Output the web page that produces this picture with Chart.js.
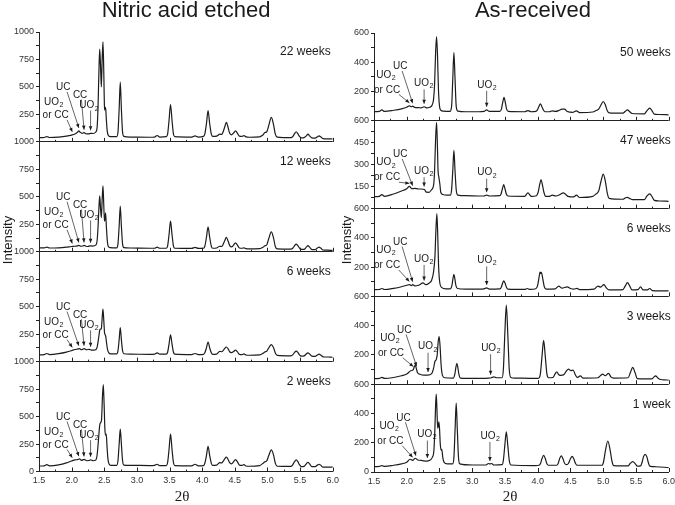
<!DOCTYPE html>
<html>
<head>
<meta charset="utf-8">
<script src="https://cdn.jsdelivr.net/npm/chart.js@4.4.1/dist/chart.umd.min.js"></script>
<style>
  html, body { margin: 0; padding: 0; background: #fff; }
  body { width: 675px; height: 505px; position: relative; overflow: hidden; }
  .col { position: absolute; top: 0; height: 505px; }
  #leftBox { left: 0; width: 343px; }
  #rightBox { left: 337px; width: 342px; }
</style>
</head>
<body>
<div class="col" id="leftBox"><canvas id="leftChart"></canvas></div>
<div class="col" id="rightBox"><canvas id="rightChart"></canvas></div>
<script>
// 2theta range shared by all panels
const xMin = 1.5, xMax = 6.0;

// Nitric acid etched, top to bottom
const leftNames = ['22 weeks', '12 weeks', '6 weeks', '2 weeks'];
const etched22 = [[1.50,38],[1.58,40],[1.62,48],[1.66,40],[1.80,44],[1.92,52],[2.00,62],[2.05,72],[2.09,88],[2.11,100],[2.13,88],[2.16,78],[2.19,84],[2.22,74],[2.26,72],[2.29,78],[2.33,76],[2.37,90],
  [2.39,130],[2.405,330],[2.418,640],[2.43,844],[2.442,700],[2.455,500],[2.468,760],[2.48,911],[2.492,650],[2.503,320],[2.51,290],[2.52,315],[2.532,200],[2.545,100],[2.56,60],[2.59,48],
  [2.69,48],[2.71,90],[2.728,300],[2.745,544],[2.762,300],[2.78,90],[2.80,50],[2.90,44],[3.20,42],[3.27,44],[3.31,58],[3.35,44],
  [3.45,48],[3.47,70],[3.492,195],[3.515,340],[3.538,195],[3.56,70],[3.58,48],[3.84,44],[3.89,54],[3.94,44],
  [4.02,50],[4.04,70],[4.065,165],[4.09,284],[4.115,165],[4.14,70],[4.16,50],
  [4.22,52],[4.27,70],[4.30,68],[4.32,90],[4.345,135],[4.37,177],[4.395,135],[4.42,80],[4.45,64],[4.48,80],[4.51,100],[4.54,78],[4.57,52],[4.61,50],[4.64,56],[4.67,46],[4.72,42],
  [4.88,46],[4.93,62],[4.96,85],[4.99,92],[5.02,150],[5.06,223],[5.095,150],[5.12,70],[5.15,44],
  [5.36,38],[5.39,50],[5.415,75],[5.44,92],[5.465,75],[5.49,50],[5.52,36],[5.56,38],[5.595,55],[5.62,70],[5.645,55],[5.68,36],
  [5.73,34],[5.765,46],[5.79,55],[5.815,46],[5.85,30],[5.92,28],[6.00,26]];
const etched12 = [[1.50,35],[1.58,36],[1.62,42],[1.66,34],[1.80,36],[1.92,42],[2.00,48],[2.05,50],[2.09,54],[2.11,58],[2.14,50],[2.17,52],[2.19,58],[2.22,50],[2.25,48],[2.28,54],[2.32,52],[2.37,60],
  [2.39,100],[2.405,230],[2.418,400],[2.43,508],[2.442,400],[2.455,310],[2.468,480],[2.48,600],[2.492,430],[2.503,278],[2.512,300],[2.52,355],[2.532,230],[2.545,110],[2.56,50],[2.59,38],
  [2.69,36],[2.71,72],[2.728,235],[2.745,416],[2.762,235],[2.78,72],[2.80,38],[2.90,34],[3.20,32],[3.27,32],[3.31,42],[3.35,32],
  [3.45,32],[3.47,52],[3.492,155],[3.515,278],[3.538,155],[3.56,52],[3.58,32],[3.84,30],[3.89,40],[3.94,30],
  [4.02,32],[4.04,50],[4.065,130],[4.09,226],[4.115,130],[4.14,50],[4.16,32],
  [4.22,34],[4.27,50],[4.30,48],[4.32,66],[4.345,100],[4.37,131],[4.395,100],[4.42,58],[4.45,44],[4.48,60],[4.51,80],[4.54,60],[4.57,34],[4.61,32],[4.64,36],[4.67,28],[4.72,26],
  [4.88,28],[4.93,40],[4.96,54],[4.99,64],[5.02,120],[5.06,180],[5.095,120],[5.12,48],[5.15,26],
  [5.36,24],[5.39,34],[5.415,55],[5.44,70],[5.465,55],[5.49,34],[5.52,22],[5.56,22],[5.595,42],[5.62,55],[5.645,42],[5.68,20],
  [5.73,20],[5.765,34],[5.79,43],[5.815,34],[5.85,16],[5.92,14],[6.00,12]];
const etched6 = [[1.50,62],[1.58,64],[1.62,74],[1.66,64],[1.80,72],[1.92,86],[2.00,100],[2.05,110],[2.09,114],[2.12,118],[2.15,108],[2.19,118],[2.23,108],[2.27,112],[2.31,104],[2.36,106],
  [2.39,130],[2.41,200],[2.43,285],[2.44,296],[2.455,300],[2.468,400],[2.48,479],[2.492,380],[2.505,260],[2.52,237],[2.535,170],[2.55,110],[2.57,80],[2.60,70],
  [2.69,70],[2.71,100],[2.728,200],[2.745,310],[2.762,200],[2.78,100],[2.80,72],[2.90,68],[3.20,66],[3.27,68],[3.31,80],[3.35,68],
  [3.45,68],[3.47,85],[3.492,160],[3.515,243],[3.538,160],[3.56,85],[3.58,68],[3.84,64],[3.89,74],[3.94,64],
  [4.02,66],[4.04,80],[4.065,125],[4.09,178],[4.115,125],[4.14,80],[4.16,66],
  [4.22,68],[4.27,94],[4.30,90],[4.32,100],[4.345,120],[4.37,133],[4.395,118],[4.42,90],[4.45,82],[4.48,92],[4.51,104],[4.54,88],[4.57,66],[4.61,64],[4.64,70],[4.67,60],[4.72,58],
  [4.88,62],[4.93,75],[4.96,88],[4.99,96],[5.02,125],[5.06,154],[5.095,125],[5.12,78],[5.15,56],
  [5.36,52],[5.39,64],[5.415,84],[5.44,95],[5.465,84],[5.49,62],[5.52,50],[5.56,52],[5.595,70],[5.62,80],[5.645,70],[5.68,50],
  [5.73,48],[5.765,60],[5.79,68],[5.815,60],[5.85,44],[5.92,42],[6.00,40]];
const etched2 = [[1.50,50],[1.58,52],[1.62,62],[1.66,52],[1.80,60],[1.92,78],[2.00,96],[2.05,106],[2.09,108],[2.12,114],[2.15,102],[2.19,110],[2.23,98],[2.26,100],[2.29,106],[2.33,98],[2.37,104],
  [2.39,150],[2.41,280],[2.43,420],[2.445,446],[2.458,470],[2.472,680],[2.485,792],[2.497,620],[2.51,380],[2.52,330],[2.53,340],[2.542,230],[2.555,120],[2.575,66],[2.60,56],
  [2.69,56],[2.71,100],[2.728,250],[2.745,385],[2.762,250],[2.78,100],[2.80,58],[2.90,56],[3.20,54],[3.27,56],[3.31,66],[3.35,54],
  [3.45,54],[3.47,80],[3.492,200],[3.515,340],[3.538,200],[3.56,80],[3.58,54],[3.84,52],[3.89,66],[3.94,52],
  [4.02,54],[4.04,74],[4.065,145],[4.09,229],[4.115,145],[4.14,74],[4.16,56],
  [4.22,58],[4.27,80],[4.30,78],[4.32,92],[4.345,115],[4.37,130],[4.395,112],[4.42,80],[4.45,70],[4.48,88],[4.51,108],[4.54,88],[4.57,58],[4.61,56],[4.64,62],[4.67,50],[4.72,48],
  [4.88,54],[4.93,74],[4.96,88],[4.99,98],[5.02,145],[5.06,196],[5.095,145],[5.12,76],[5.15,48],
  [5.36,46],[5.39,64],[5.415,90],[5.44,105],[5.465,90],[5.49,62],[5.52,44],[5.56,46],[5.595,70],[5.62,84],[5.645,70],[5.68,44],
  [5.73,44],[5.765,58],[5.79,66],[5.815,58],[5.85,40],[5.92,40],[6.00,40]];
const leftMax = [1000, 1000, 1000, 1000];
const leftMinor = [125, 125, 125, 125];
const leftMajor = [250, 250, 250, 250];

// As-received, top to bottom
const rightNames = ['50 weeks', '47 weeks', '6 weeks', '3 weeks', '1 week'];
const asrec50 = [[1.50,62],[1.58,64],[1.62,74],[1.66,64],[1.80,72],[1.92,82],[2.00,93],[2.04,102],[2.07,96],[2.09,100],[2.12,92],[2.18,90],[2.22,88],[2.265,96],[2.30,88],[2.35,92],[2.39,110],
  [2.41,150],[2.425,250],[2.44,460],[2.455,575],[2.47,440],[2.485,200],[2.50,100],[2.52,72],[2.56,66],
  [2.66,64],[2.685,100],[2.703,290],[2.72,466],[2.737,290],[2.755,100],[2.78,66],[2.90,62],[3.10,62],[3.18,64],[3.22,75],[3.26,64],
  [3.42,64],[3.445,80],[3.465,125],[3.485,161],[3.505,125],[3.525,80],[3.55,64],[3.80,62],[3.85,70],[3.90,62],
  [3.97,64],[3.995,75],[4.02,100],[4.04,116],[4.06,100],[4.085,75],[4.11,62],
  [4.18,62],[4.22,68],[4.27,64],[4.33,72],[4.37,80],[4.41,80],[4.45,64],[4.54,58],[4.59,68],[4.64,56],
  [4.84,60],[4.89,70],[4.93,80],[4.965,108],[5.00,132],[5.035,105],[5.06,70],[5.09,54],
  [5.30,52],[5.34,66],[5.37,75],[5.40,64],[5.44,50],[5.63,48],[5.665,68],[5.71,86],[5.745,68],[5.78,46],[5.85,43],[6.00,41]];
const asrec47 = [[1.50,82],[1.58,84],[1.62,95],[1.66,84],[1.80,100],[1.92,120],[2.00,136],[2.04,152],[2.08,136],[2.12,138],[2.18,134],[2.22,134],[2.27,130],[2.30,112],[2.34,111],[2.38,130],[2.41,160],
  [2.425,260],[2.44,470],[2.455,589],[2.468,430],[2.478,260],[2.49,215],[2.505,170],[2.52,110],[2.55,96],[2.62,92],
  [2.665,92],[2.685,130],[2.703,260],[2.72,398],[2.737,260],[2.755,130],[2.78,92],[2.90,88],[3.10,86],[3.18,86],[3.22,92],[3.26,86],
  [3.42,88],[3.44,100],[3.46,135],[3.48,164],[3.50,135],[3.52,100],[3.545,86],[3.80,84],[3.85,107],[3.90,84],
  [3.98,88],[4.005,110],[4.03,165],[4.05,198],[4.07,165],[4.095,110],[4.12,84],
  [4.18,84],[4.22,92],[4.28,86],[4.34,96],[4.39,107],[4.42,100],[4.46,84],[4.55,80],[4.59,92],[4.64,76],
  [4.84,84],[4.89,100],[4.93,120],[4.965,185],[5.00,236],[5.035,180],[5.06,110],[5.09,70],
  [5.30,64],[5.34,74],[5.37,77],[5.40,70],[5.44,62],[5.63,62],[5.665,85],[5.71,100],[5.745,82],[5.78,56],[5.85,52],[6.00,50]];
const asrec6 = [[1.50,46],[1.58,47],[1.62,54],[1.66,47],[1.80,55],[1.92,66],[2.00,76],[2.04,81],[2.07,74],[2.09,80],[2.12,72],[2.18,76],[2.25,92],[2.29,80],[2.34,90],[2.38,110],
  [2.41,170],[2.43,270],[2.445,450],[2.46,565],[2.473,420],[2.485,220],[2.50,110],[2.53,62],[2.60,52],
  [2.665,52],[2.69,75],[2.705,120],[2.72,150],[2.735,120],[2.75,75],[2.775,54],[2.90,50],[3.10,50],[3.18,52],[3.22,58],[3.26,50],
  [3.42,52],[3.445,65],[3.465,92],[3.48,106],[3.50,92],[3.52,65],[3.545,50],[3.80,48],[3.84,54],[3.88,48],
  [3.97,52],[3.995,70],[4.02,130],[4.035,166],[4.045,158],[4.055,165],[4.075,125],[4.10,66],[4.13,50],
  [4.27,52],[4.32,70],[4.37,56],[4.45,65],[4.50,54],[4.55,50],[4.60,55],[4.64,46],
  [4.86,50],[4.92,70],[4.96,64],[5.01,81],[5.05,56],[5.09,44],
  [5.30,46],[5.335,70],[5.37,94],[5.405,70],[5.44,44],[5.53,46],[5.57,65],[5.61,44],[5.67,44],[5.71,54],[5.75,40],[5.85,38],[6.00,38]];
const asrec3 = [[1.50,38],[1.58,40],[1.62,46],[1.66,40],[1.80,46],[1.92,58],[2.00,69],[2.06,92],[2.10,100],
  [2.115,120],[2.13,131],[2.145,110],[2.165,78],[2.20,68],[2.26,62],[2.32,62],[2.38,72],
  [2.41,110],[2.43,155],[2.45,168],[2.465,200],[2.48,290],[2.495,326],[2.51,250],[2.525,130],[2.545,60],[2.58,44],
  [2.71,42],[2.735,70],[2.75,115],[2.765,143],[2.78,115],[2.795,70],[2.82,42],[3.00,40],[3.25,42],[3.29,44],[3.33,50],[3.37,44],
  [3.455,44],[3.475,100],[3.497,340],[3.52,540],[3.543,340],[3.565,100],[3.59,46],[3.65,42],[4.00,40],
  [4.02,42],[4.04,70],[4.065,190],[4.09,299],[4.115,190],[4.14,70],[4.165,44],
  [4.23,46],[4.265,70],[4.29,85],[4.315,68],[4.34,60],[4.37,62],[4.40,66],[4.44,92],[4.47,103],[4.505,92],[4.54,97],[4.57,68],[4.60,46],[4.65,57],[4.69,42],
  [4.92,44],[4.96,60],[4.99,69],[5.03,58],[5.08,74],[5.12,48],[5.16,42],
  [5.38,44],[5.415,80],[5.45,115],[5.485,80],[5.52,38],[5.74,36],[5.775,50],[5.80,57],[5.83,44],[5.86,34],[5.92,30],[6.00,28]];
const asrec1 = [[1.50,36],[1.58,38],[1.62,44],[1.66,38],[1.80,46],[1.92,56],[2.00,66],[2.05,87],[2.09,80],[2.13,94],[2.17,82],[2.22,80],[2.26,76],[2.30,74],[2.35,80],[2.39,100],
  [2.415,150],[2.43,300],[2.44,450],[2.45,532],[2.46,440],[2.472,300],[2.48,310],[2.49,342],[2.50,300],[2.512,190],[2.525,150],[2.535,155],[2.55,100],[2.57,66],[2.62,56],
  [2.70,56],[2.72,100],[2.738,290],[2.755,470],[2.772,290],[2.79,100],[2.81,56],[3.00,48],[3.20,48],[3.22,50],[3.245,58],[3.27,55],[3.295,58],[3.33,48],
  [3.455,50],[3.475,80],[3.497,180],[3.52,274],[3.543,180],[3.565,80],[3.59,48],[3.95,44],
  [4.02,46],[4.045,62],[4.065,92],[4.09,114],[4.115,92],[4.135,62],[4.16,46],
  [4.29,46],[4.315,62],[4.335,92],[4.36,110],[4.385,90],[4.41,60],[4.44,50],[4.47,60],[4.50,92],[4.525,107],[4.55,90],[4.575,60],[4.60,46],
  [4.98,46],[5.005,70],[5.035,150],[5.07,212],[5.105,150],[5.135,70],[5.16,44],
  [5.38,42],[5.41,58],[5.45,71],[5.49,56],[5.52,40],[5.57,42],[5.595,70],[5.615,105],[5.64,121],[5.665,105],[5.685,70],[5.71,40],[5.80,36],[6.00,30]];
const rightMax = [600, 600, 600, 600, 600];
const rightMinor = [100, 75, 100, 100, 100];
const rightMajor = [200, 150, 200, 200, 200];

// phase labels: text centre (x, y) and arrow from (fx, fy) to the curve at ax
const annLeft = [
  { text: 'UO2', x: 1.72, y: 360 },
  { text: 'or CC', x: 1.755, y: 240, fx: 1.93, fy: 200, ax: 2.01 },
  { text: 'UC', x: 1.87, y: 495, fx: 1.93, fy: 455, ax: 2.11 },
  { text: 'CC', x: 2.13, y: 425, fx: 2.15, fy: 385, ax: 2.19 },
  { text: 'UO2', x: 2.26, y: 330, fx: 2.29, fy: 285, ax: 2.29 }
];
const annRight = [
  { text: 'UO2', x: 1.68, y: 314 },
  { text: 'or CC', x: 1.70, y: 211, fx: 1.88, fy: 180, ax: 2.04 },
  { text: 'UC', x: 1.90, y: 370, fx: 1.93, fy: 340, ax: 2.09 },
  { text: 'UO2', x: 2.255, y: 257, fx: 2.265, fy: 215, ax: 2.265 },
  { text: 'UO2', x: 3.22, y: 245, fx: 3.22, fy: 205, ax: 3.22 }
];
const leftShift = [0, 0, 0, 0];
const rightShift = [0, 0, 0, 0.06, 0.05];

const FONT = '"Liberation Sans", Arial, sans-serif';
Chart.defaults.font.family = FONT;

function curveAt(pts, x) {
  for (let i = 1; i < pts.length; i++) {
    if (pts[i][0] >= x) {
      const [x0, y0] = pts[i - 1], [x1, y1] = pts[i];
      return y0 + (y1 - y0) * (x - x0) / (x1 - x0);
    }
  }
  return pts[pts.length - 1][1];
}

function drawLabel(ctx, text, cx, cy) {
  if (text === 'UO2') {
    ctx.font = '10px ' + FONT;
    const w1 = ctx.measureText('UO').width;
    ctx.font = '7px ' + FONT;
    const w2 = ctx.measureText('2').width;
    const left = cx - (w1 + w2) / 2;
    ctx.textAlign = 'left';
    ctx.font = '10px ' + FONT;
    ctx.fillText('UO', left, cy);
    ctx.font = '7px ' + FONT;
    ctx.fillText('2', left + w1 + 0.5, cy + 3);
  } else {
    ctx.font = '10px ' + FONT;
    ctx.textAlign = 'center';
    ctx.fillText(text, cx, cy);
  }
}

function drawArrow(ctx, x0, y0, x1, y1) {
  ctx.beginPath();
  ctx.moveTo(x0, y0);
  ctx.lineTo(x1, y1);
  ctx.stroke();
  const ang = Math.atan2(y1 - y0, x1 - x0);
  ctx.beginPath();
  ctx.moveTo(x1, y1);
  ctx.lineTo(x1 - 4 * Math.cos(ang) + 1.8 * Math.sin(ang), y1 - 4 * Math.sin(ang) - 1.8 * Math.cos(ang));
  ctx.lineTo(x1 - 4 * Math.cos(ang) - 1.8 * Math.sin(ang), y1 - 4 * Math.sin(ang) + 1.8 * Math.cos(ang));
  ctx.closePath();
  ctx.fill();
}

const decor = {
  id: 'decor',
  afterDraw(chart, args, opts) {
    const { ctx, chartArea: a } = chart;
    const xs = chart.scales.x;
    ctx.save();
    ctx.fillStyle = '#1a1a1a';
    ctx.strokeStyle = '#222';

    // column title
    ctx.font = '22px ' + FONT;
    ctx.textAlign = 'center';
    ctx.textBaseline = 'alphabetic';
    ctx.fillText(opts.title, opts.titleX, 17);

    // axis titles
    ctx.textBaseline = 'middle';
    ctx.font = '15px "Liberation Serif", "Times New Roman", serif';
    ctx.fillText('2\u03b8', opts.xTitleX, 497);
    ctx.save();
    ctx.translate(opts.yTitleX, 240);
    ctx.rotate(-Math.PI / 2);
    ctx.font = '13px ' + FONT;
    ctx.fillText('Intensity', 0, 0);
    ctx.restore();

    opts.series.forEach((pts, i) => {
      const ys = chart.scales['y' + i];
      // inward ticks along each panel's bottom edge
      ctx.lineWidth = 1;
      ctx.beginPath();
      for (let k = 0; k <= (xMax - xMin) / 0.25 + 1e-6; k++) {
        const v = xMin + k * 0.25;
        const px = Math.round(xs.getPixelForValue(v)) + 0.5;
        const len = k % 2 === 0 ? 4 : 2;
        ctx.moveTo(px, ys.bottom);
        ctx.lineTo(px, ys.bottom - len);
      }
      ctx.stroke();

      // time label
      ctx.font = '12px ' + FONT;
      ctx.textAlign = 'right';
      ctx.fillText(opts.names[i], a.right + opts.nameDx, ys.top + 20);

      // phase labels and arrows
      const sh = opts.shift[i];
      ctx.lineWidth = 0.7;
      opts.ann.forEach(an => {
        drawLabel(ctx, an.text, xs.getPixelForValue(an.x + sh), ys.getPixelForValue(an.y));
        if (an.ax !== undefined) {
          const ax = an.ax + sh;
          drawArrow(ctx,
            xs.getPixelForValue(an.fx + sh), ys.getPixelForValue(an.fy),
            xs.getPixelForValue(ax), ys.getPixelForValue(curveAt(pts, ax)) - 3);
        }
      });
    });
    ctx.restore();
  }
};

function buildChart(canvasId, series, maxes, minor, major, cfg) {
  const n = series.length;
  const scales = {
    x: {
      type: 'linear', min: xMin, max: xMax,
      afterFit: s => { s.height = 20; },
      border: { color: '#222', width: 1 },
      grid: { display: false, drawTicks: false },
      ticks: { stepSize: 0.5, autoSkip: false, maxRotation: 0, padding: 4, color: '#333', font: { size: 9 },
        callback: v => Number(v).toFixed(1) }
    }
  };
  for (let i = 0; i < n; i++) {
    scales['y' + i] = {
      type: 'linear', position: 'left', stack: 'col', stackWeight: 1, weight: n - i,
      min: 0, max: maxes[i],
      afterFit: s => { s.width = 25; },
      border: { color: '#222', width: 1 },
      grid: {
        color: c => (c.tick && c.tick.value === 0) ? '#222' : 'rgba(0,0,0,0)',
        tickColor: '#222', tickLength: 3, lineWidth: 1
      },
      ticks: { stepSize: minor[i], autoSkip: false, padding: 2, color: '#333', font: { size: 9 },
        callback: v => (v % major[i] === 0 && (v !== 0 || i === n - 1)) ? String(v) : '' }
    };
  }
  return new Chart(document.getElementById(canvasId), {
    type: 'line',
    data: {
      datasets: series.map((pts, i) => ({
        data: pts.map(([x, y]) => ({ x, y })),
        yAxisID: 'y' + i,
        borderColor: '#1c1c1c',
        borderWidth: 1.2,
        pointRadius: 0,
        cubicInterpolationMode: 'monotone',
        fill: false
      }))
    },
    options: {
      responsive: true,
      maintainAspectRatio: false,
      animation: false,
      layout: { padding: cfg.padding },
      plugins: {
        legend: { display: false },
        tooltip: { enabled: false },
        decor: cfg.decor
      },
      scales
    },
    plugins: [decor]
  });
}

const leftSeries = [etched22, etched12, etched6, etched2];
const rightSeries = [asrec50, asrec47, asrec6, asrec3, asrec1];

buildChart('leftChart', leftSeries, leftMax, leftMinor, leftMajor, {
  padding: { left: 14, right: 0, top: 32, bottom: 13.5 },
  decor: { title: 'Nitric acid etched', titleX: 186, xTitleX: 182, yTitleX: 8,
    names: leftNames, nameDx: -2, ann: annLeft, shift: leftShift, series: leftSeries }
});
buildChart('rightChart', rightSeries, rightMax, rightMinor, rightMajor, {
  padding: { left: 12, right: 0, top: 33, bottom: 13 },
  decor: { title: 'As-received', titleX: 196, xTitleX: 173, yTitleX: 10,
    names: rightNames, nameDx: 2, ann: annRight, shift: rightShift, series: rightSeries }
});
</script>
</body>
</html>
